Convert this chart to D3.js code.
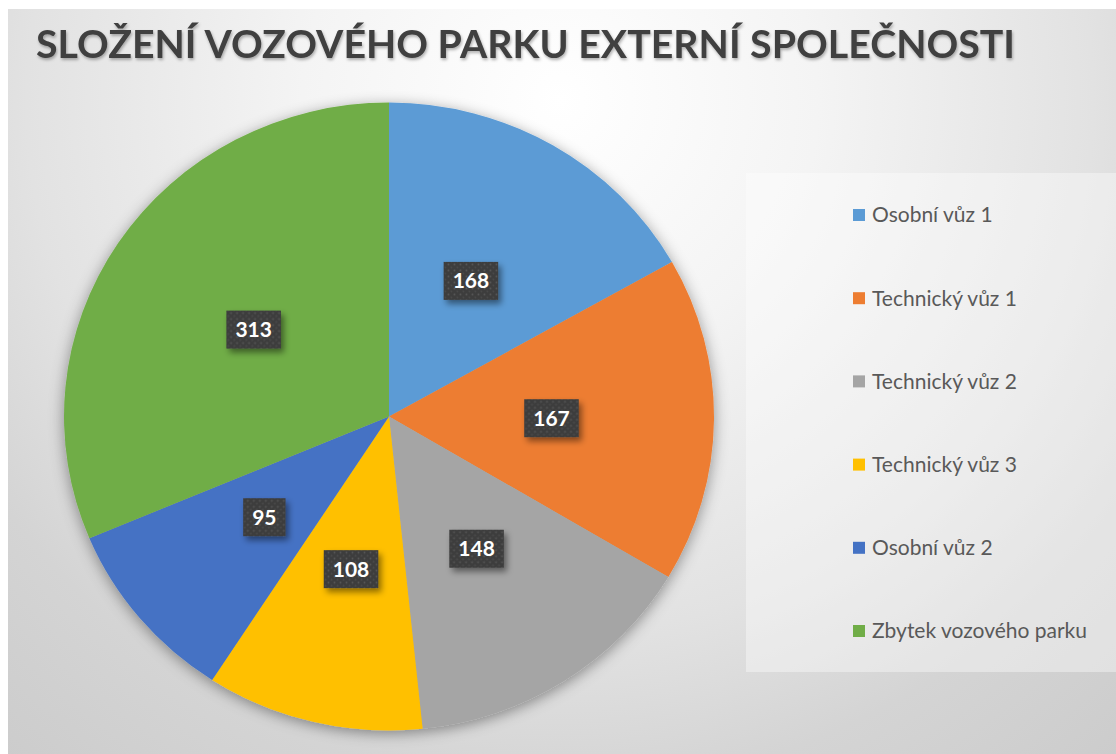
<!DOCTYPE html>
<html>
<head>
<meta charset="utf-8">
<script src="https://cdn.jsdelivr.net/npm/d3@7"></script>
<style>
  body { margin: 0; background: #fff; }
  svg { display: block; }
</style>
</head>
<body>
<svg id="chart"></svg>
<script>
// data
var title = "SLOŽENÍ VOZOVÉHO PARKU EXTERNÍ SPOLEČNOSTI";
var categories = ["Osobní vůz 1", "Technický vůz 1", "Technický vůz 2", "Technický vůz 3", "Osobní vůz 2", "Zbytek vozového parku"];
var values = [168, 167, 148, 108, 95, 313];
var colors = ["#5B9BD5", "#ED7D31", "#A5A5A5", "#FFC000", "#4472C4", "#70AD47"];

var width = 1116, height = 754;

var svg = d3.select("#chart")
    .attr("width", width)
    .attr("height", height);

var defs = svg.append("defs");

// background radial gradient
var bg = defs.append("radialGradient")
    .attr("id", "bgGrad")
    .attr("gradientUnits", "userSpaceOnUse")
    .attr("cx", 560).attr("cy", 100).attr("r", 860);
[[0, "#ffffff"], [0.3, "#f4f4f4"], [0.62, "#e2e2e2"], [0.8, "#d4d4d4"], [1, "#cccccc"]].forEach(function(s) {
  bg.append("stop").attr("offset", s[0]).attr("stop-color", s[1]);
});

// shadows
var pieShadow = defs.append("filter").attr("id", "pieShadow")
    .attr("x", "-20%").attr("y", "-20%").attr("width", "140%").attr("height", "140%");
pieShadow.append("feDropShadow")
    .attr("dx", 0).attr("dy", 3).attr("stdDeviation", 7)
    .attr("flood-color", "#000").attr("flood-opacity", 0.4);

var boxShadow = defs.append("filter").attr("id", "boxShadow")
    .attr("x", "-30%").attr("y", "-30%").attr("width", "160%").attr("height", "160%");
boxShadow.append("feDropShadow")
    .attr("dx", 3).attr("dy", 4).attr("stdDeviation", 3)
    .attr("flood-color", "#000").attr("flood-opacity", 0.45);

var titleShadow = defs.append("filter").attr("id", "titleShadow");
titleShadow.append("feDropShadow")
    .attr("dx", 1).attr("dy", 2).attr("stdDeviation", 1.5)
    .attr("flood-color", "#000").attr("flood-opacity", 0.3);

// dotted fill for the data labels
var pat = defs.append("pattern")
    .attr("id", "dots")
    .attr("patternUnits", "userSpaceOnUse")
    .attr("width", 6).attr("height", 6);
pat.append("rect").attr("width", 6).attr("height", 6).attr("fill", "#3d3d3d");
pat.append("circle").attr("cx", 1.5).attr("cy", 1.5).attr("r", 0.9).attr("fill", "#575757");
pat.append("circle").attr("cx", 4.5).attr("cy", 4.5).attr("r", 0.9).attr("fill", "#4b4b4b");

// chart area
svg.append("rect")
    .attr("x", 8).attr("y", 9)
    .attr("width", width - 8).attr("height", height - 9)
    .attr("fill", "url(#bgGrad)");

// title
svg.append("text")
    .attr("x", 36)
    .attr("y", 58)
    .attr("font-family", "Lato, 'Open Sans', sans-serif")
    .attr("font-weight", "bold")
    .attr("font-size", 39)
    .attr("fill", "#404040")
    .attr("textLength", 979)
    .attr("lengthAdjust", "spacingAndGlyphs")
    .attr("filter", "url(#titleShadow)")
    .text(title);

// pie
var cx = 389, cy = 416.5, radius = 314, stretch = 1.035;

var pie = d3.pie().sort(null).value(function(d) { return d; });
var arc = d3.arc().innerRadius(0).outerRadius(radius);
var arcs = pie(values);

var pieG = svg.append("g")
    .attr("transform", "translate(" + cx + "," + cy + ") scale(" + stretch + ",1)")
    .attr("filter", "url(#pieShadow)");

pieG.selectAll("path")
    .data(arcs)
  .enter().append("path")
    .attr("d", arc)
    .attr("fill", function(d, i) { return colors[i]; });

// data labels
var labels = svg.append("g").attr("class", "labels");

var lab = labels.selectAll("g")
    .data(arcs)
  .enter().append("g")
    .attr("transform", function(d) {
      var c = arc.centroid(d);
      return "translate(" + (cx + c[0] * stretch) + "," + (cy + c[1]) + ")";
    });

var rects = lab.append("rect")
    .attr("fill", "url(#dots)")
    .attr("filter", "url(#boxShadow)");

var texts = lab.append("text")
    .attr("text-anchor", "middle")
    .attr("dy", "0.36em")
    .attr("font-family", "Lato, 'Open Sans', sans-serif")
    .attr("font-weight", "bold")
    .attr("font-size", 21)
    .attr("fill", "#fff")
    .text(function(d) { return d.value; });

texts.each(function(d, i) {
  var w = this.getComputedTextLength() + 18;
  d3.select(rects.nodes()[i])
    .attr("x", -w / 2).attr("y", -19)
    .attr("width", w).attr("height", 38);
});

// legend
var legend = svg.append("g").attr("class", "legend");

legend.append("rect")
    .attr("x", 746).attr("y", 173)
    .attr("width", width - 746).attr("height", 499)
    .attr("fill", "#fff")
    .attr("fill-opacity", 0.38);

var yLegend = d3.scalePoint()
    .domain(categories)
    .range([215, 631]);

var item = legend.selectAll("g.item")
    .data(categories)
  .enter().append("g")
    .attr("class", "item")
    .attr("transform", function(d) { return "translate(853," + yLegend(d) + ")"; });

item.append("rect")
    .attr("x", 0).attr("y", -6)
    .attr("width", 12).attr("height", 12)
    .attr("fill", function(d, i) { return colors[i]; });

item.append("text")
    .attr("x", 19)
    .attr("dy", "0.35em")
    .attr("font-family", "Lato, 'Open Sans', sans-serif")
    .attr("font-size", 21)
    .attr("fill", "#595959")
    .text(function(d) { return d; });
</script>
</body>
</html>
